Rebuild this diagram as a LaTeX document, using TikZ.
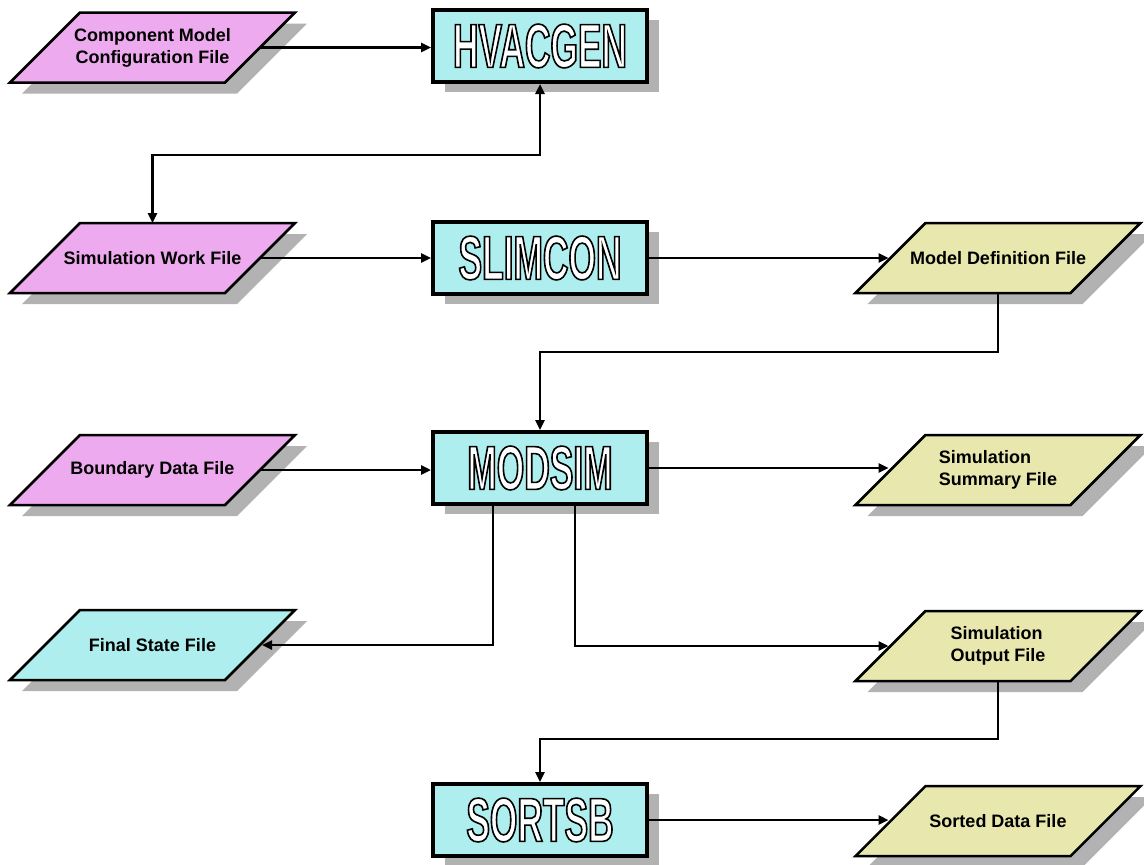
\documentclass[tikz,border=0pt]{standalone}
\usepackage{fontspec}
\newfontfamily\labfont{Liberation Sans}
\newfontfamily\boxfont[FakeStretch=0.57]{Liberation Sans}
\usetikzlibrary{shadows,arrows.meta}
\pgfdeclarelayer{background}
\pgfsetlayers{background,main}
\definecolor{pinkf}{RGB}{238,170,238}
\definecolor{cyanf}{RGB}{175,238,238}
\definecolor{yelf}{RGB}{232,232,174}
\definecolor{shad}{RGB}{178,178,178}
\newcommand\olt[1]{{\color{white}\special{pdf:literal direct 0 G 2 Tr 1.6 w}#1\special{pdf:literal direct 0 Tr}}}
\newcommand\para[2]{%
 \fill[shad] ([xshift=12pt,yshift=-11pt]#1.south west) -- ([xshift=227pt,yshift=-11pt]#1.south west)
   -- ([xshift=12pt,yshift=-11pt]#1.north east) -- ([xshift=-203pt,yshift=-11pt]#1.north east) -- cycle;
 \filldraw[fill=#2, draw=black, line width=2.5pt, line join=miter] (#1.south west) -- ([xshift=215pt]#1.south west)
   -- (#1.north east) -- ([xshift=-215pt]#1.north east) -- cycle;}
\tikzset{
 filebox/.style={rectangle, minimum width=285pt, minimum height=70pt, outer sep=0pt,
   inner sep=0pt, font=\labfont\bfseries\fontsize{18}{22}\selectfont, align=center},
 progbox/.style={rectangle, minimum width=214pt, minimum height=72pt,
   draw=black, line width=4pt, fill=cyanf, inner sep=0pt,
   font=\boxfont\bfseries\fontsize{62}{62}\selectfont,
   drop shadow={shadow xshift=12pt, shadow yshift=-10pt, fill=shad, opacity=1}},
 tip/.tip={Triangle[length=10pt,width=9pt]},
 conn/.style={line width=2.4pt, -tip},
 conn2/.style={line width=2.4pt, tip-tip},
}
\begin{document}
\begin{tikzpicture}[x=1pt,y=-1pt]
\useasboundingbox (0,0) rectangle (1144,865);
\node[filebox] (cm) at (152.5,47.5) {Component Model\\Configuration File};
\node[progbox] (hv) at (540,46) {\olt{HVACGEN}};
\node[filebox] (sw) at (152.5,258) {Simulation Work File};
\node[progbox] (sl) at (540,258) {\olt{SLIMCON}};
\node[filebox] (md) at (998,258) {Model Definition File};
\node[filebox] (bd) at (152.5,470) {Boundary Data File};
\node[progbox] (mo) at (540,468) {\olt{MODSIM}};
\node[filebox, align=left] (ss) at (998,470) {Simulation\\Summary File};
\node[filebox] (fs) at (152.5,645) {Final State File};
\node[filebox, align=left] (so) at (998,646) {Simulation\\Output File};
\node[progbox] (sb) at (540,820) {\olt{SORTSB}};
\node[filebox] (sd) at (998,821) {Sorted Data File};

\begin{pgfonlayer}{background}
\fill[white] (0,0) rectangle (1144,865);
\para{cm}{pinkf}\para{sw}{pinkf}\para{bd}{pinkf}\para{fs}{cyanf}
\para{md}{yelf}\para{ss}{yelf}\para{so}{yelf}\para{sd}{yelf}
\end{pgfonlayer}

% edge midpoints of the parallelograms
\coordinate (cm-r) at ([xshift=-35pt]cm.east);
\coordinate (sw-r) at ([xshift=-35pt]sw.east);
\coordinate (bd-r) at ([xshift=-35pt]bd.east);
\coordinate (fs-r) at ([xshift=-33pt]fs.east);
\coordinate (md-l) at ([xshift=33pt]md.west);
\coordinate (ss-l) at ([xshift=33pt]ss.west);
\coordinate (so-l) at ([xshift=33pt]so.west);
\coordinate (sd-l) at ([xshift=33pt]sd.west);
\coordinate (mo-a) at ([xshift=-47pt]mo.south);
\coordinate (mo-b) at ([xshift=35pt]mo.south);

\draw[conn] (cm-r) -- (cm-r -| hv.west);
\draw[conn2] (hv.south) -- ++(0,71) -| (sw.north);
\draw[conn] (sw-r) -- (sw-r -| sl.west);
\draw[conn] (sl.east) -- (md-l);
\draw[conn] (md.south) -- ++(0,59) -| (mo.north);
\draw[conn] (bd-r) -- (bd-r -| mo.west);
\draw[conn] (mo.east) -- (mo.east -| ss-l);
\draw[conn] (mo-a) |- (fs-r);
\draw[conn] (mo-b) |- (so-l);
\draw[conn] (so.south) -- ++(0,58) -| (sb.north);
\draw[conn] (sb.east) -- (sb.east -| sd-l);
\end{tikzpicture}
\end{document}
